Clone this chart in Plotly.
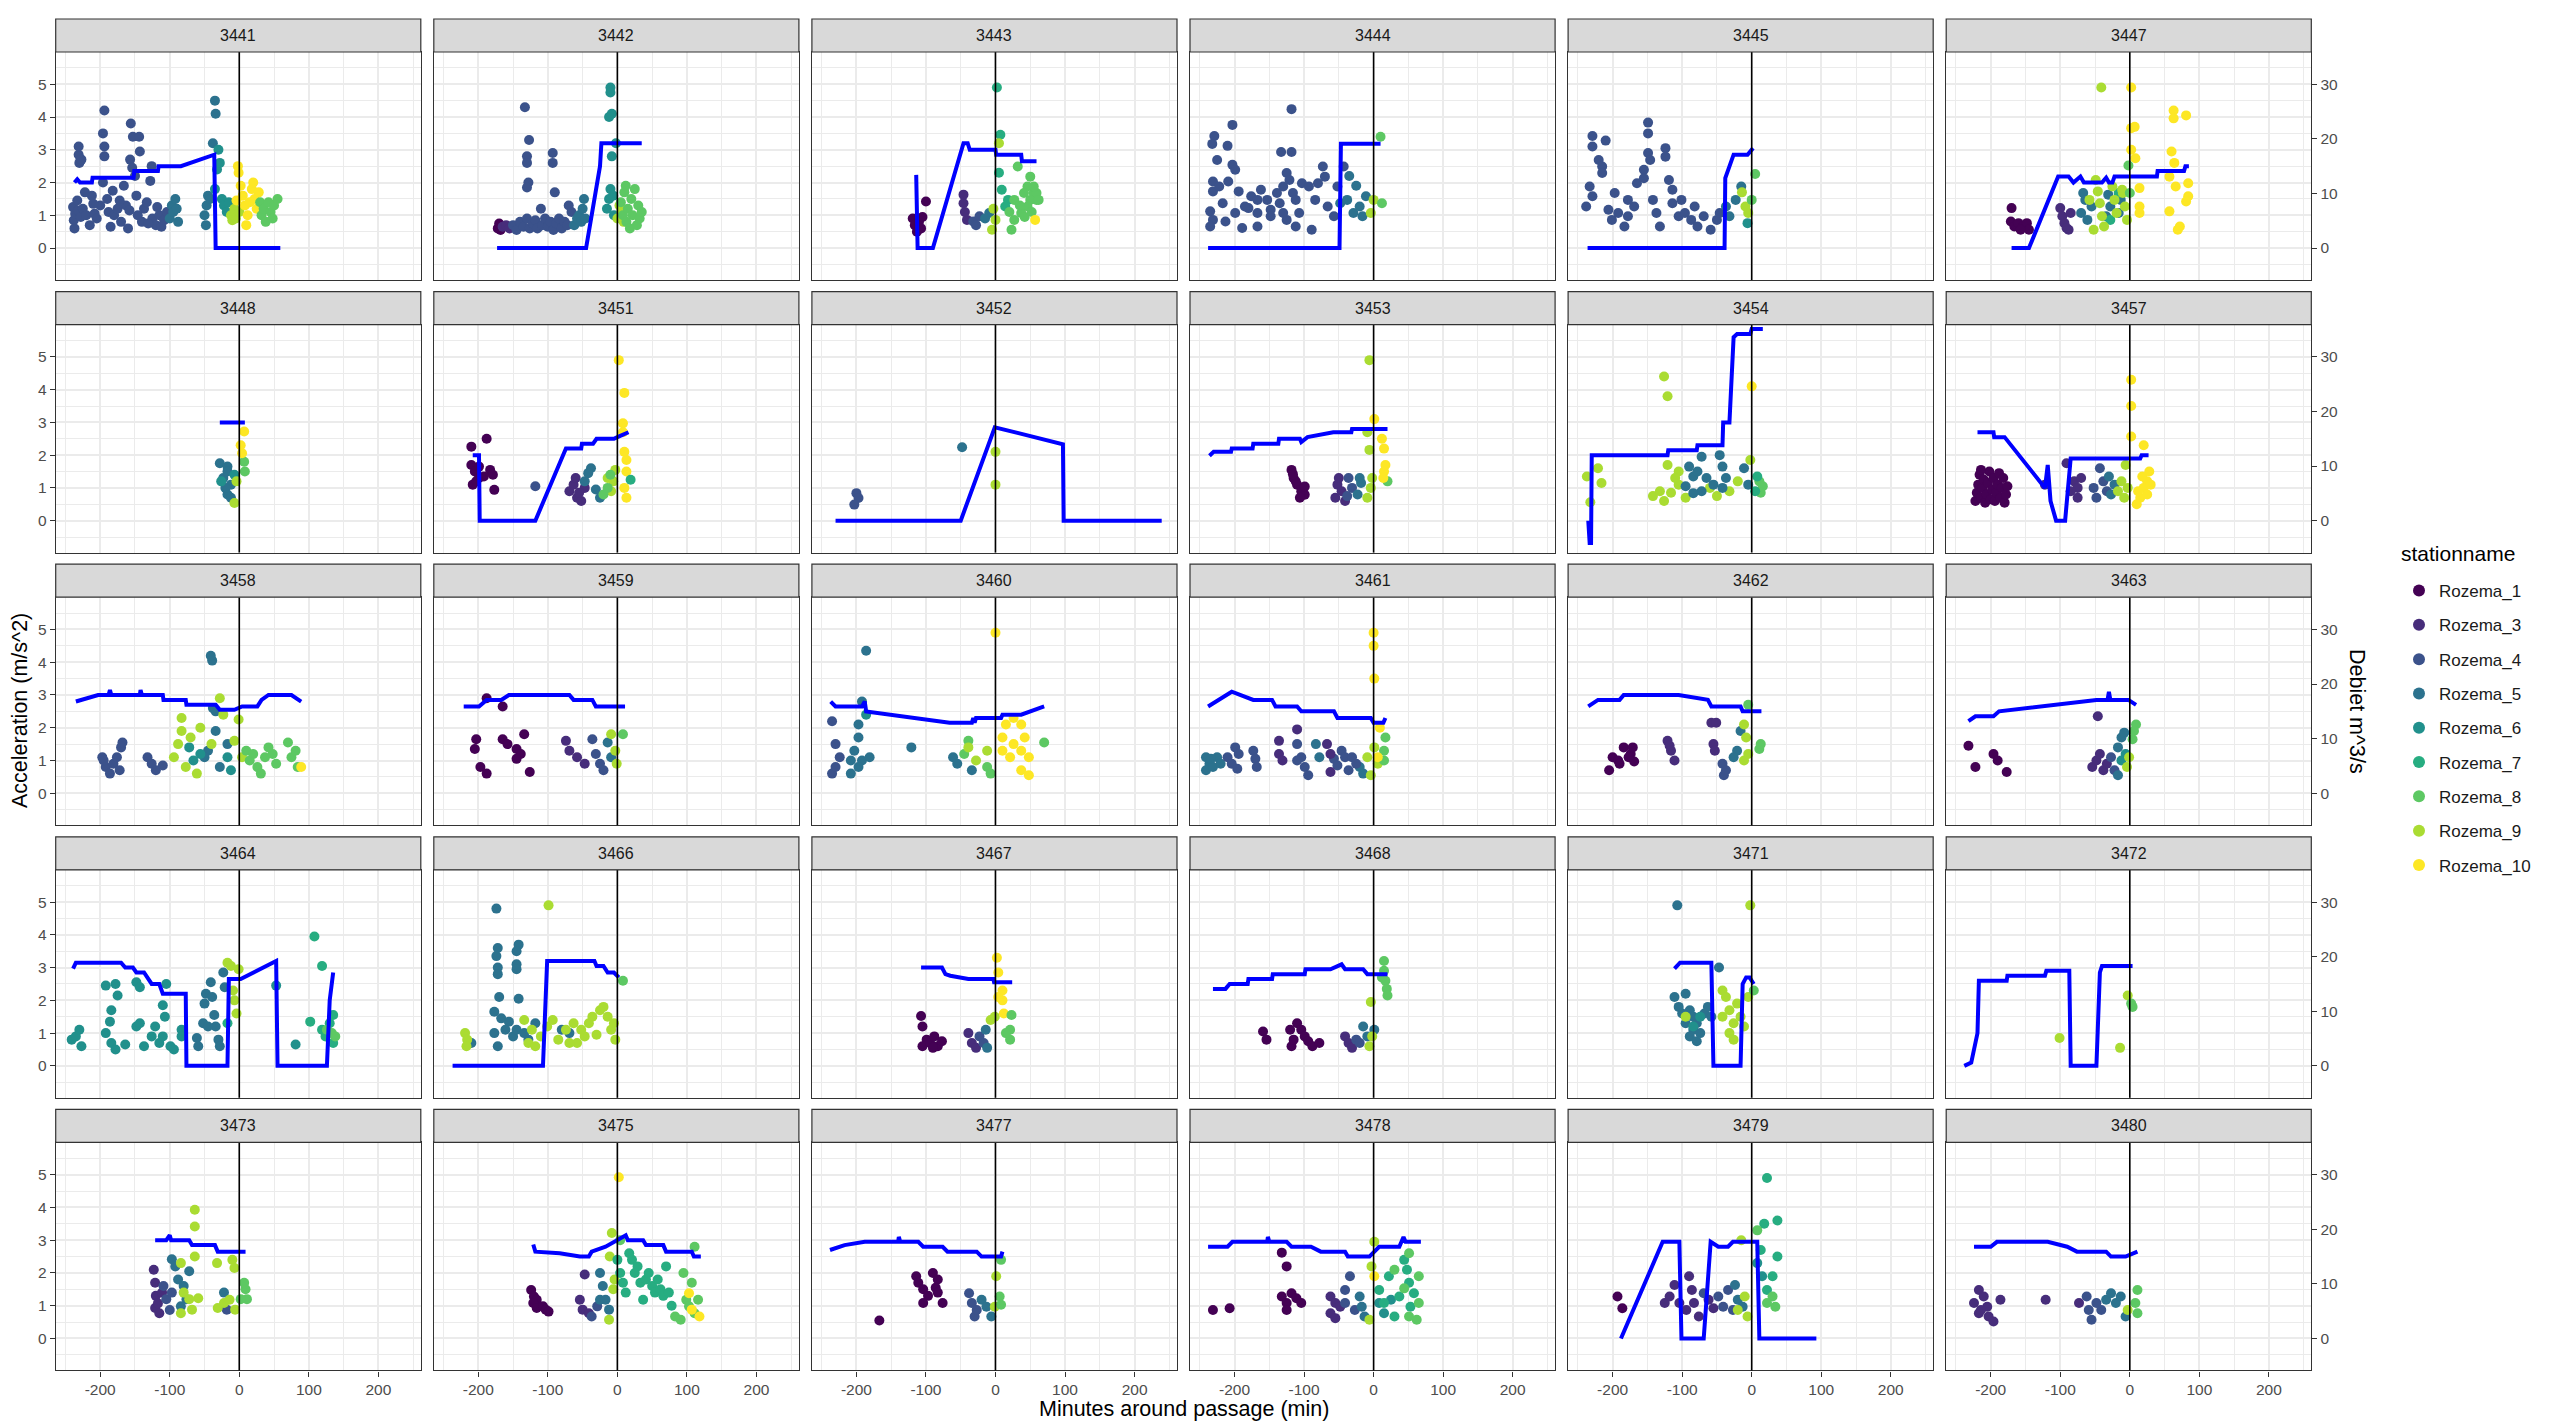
import plotly.graph_objects as go

# ---------------------------------------------------------------- stations
station_ids = [1, 3, 4, 5, 6, 7, 8, 9, 10]
station_names = ["Rozema_1", "Rozema_3", "Rozema_4", "Rozema_5", "Rozema_6",
                 "Rozema_7", "Rozema_8", "Rozema_9", "Rozema_10"]
station_colors = ["#440154", "#472D7B", "#3B528B", "#2C728E", "#21908C",
                  "#27AD81", "#5DC863", "#AADC32", "#FDE725"]

passages = [3441, 3442, 3443, 3444, 3445, 3447,
            3448, 3451, 3452, 3453, 3454, 3457,
            3458, 3459, 3460, 3461, 3462, 3463,
            3464, 3466, 3467, 3468, 3471, 3472,
            3473, 3475, 3477, 3478, 3479, 3480]

x_ticks = [-200, -100, 0, 100, 200]
x_tick_text = ["-200", "-100", "0", "100", "200"]
acc_ticks = [0, 1, 2, 3, 4, 5]
q_ticks = [0, 10, 20, 30]

# ------------------------------------------------- acceleration (m/s^2)
# per passage: (station, [(minutes around passage, acceleration), ...])
acc_3441 = [
    (4, [(-237, 0.6), (-238, 0.85), (-236, 1.05), (-239, 1.25), (-233, 1.45), (-232, 1.15), (-228, 0.95),
         (-225, 1.2), (-230, 2.6), (-231, 2.85), (-231, 3.1), (-227, 2.7), (-220, 1.0), (-215, 0.7),
         (-212, 1.6), (-208, 1.05), (-205, 0.9), (-200, 1.3), (-196, 2.0), (-194, 2.8), (-194, 3.1),
         (-196, 3.5), (-194, 4.2), (-190, 1.5), (-188, 1.1), (-185, 0.65), (-180, 1.0), (-175, 1.2),
         (-170, 0.8), (-166, 1.9), (-163, 1.3), (-160, 0.6), (-157, 2.7), (-156, 3.8), (-153, 3.4),
         (-144, 3.4), (-143, 2.95), (-154, 2.45), (-150, 2.2), (-148, 1.6), (-146, 1.0), (-140, 0.8),
         (-137, 1.2), (-133, 1.4), (-128, 2.05), (-126, 2.5), (-125, 0.9), (-120, 0.7), (-115, 1.0),
         (-112, 0.65), (-108, 0.85), (-104, 1.1), (-222, 1.7), (-210, 1.35), (-182, 1.75), (-172, 1.45),
         (-158, 1.15), (-131, 0.75), (-118, 1.25)]),
    (5, [(-100, 0.9), (-97, 1.3), (-95, 1.1), (-92, 1.5), (-90, 1.2), (-88, 0.8), (-50, 1.0), (-48, 0.7),
         (-47, 1.3), (-45, 1.6), (-38, 3.2), (-34, 4.1), (-35, 4.5), (-42, 1.5)]),
    (6, [(-35, 1.8), (-32, 2.4), (-30, 3.0), (-28, 2.6), (-25, 1.5), (-22, 1.3), (-18, 1.1), (-15, 1.4)]),
    (9, [(-12, 1.0), (-10, 0.85), (-7, 1.2), (-5, 0.9), (0, 1.1)]),
    (10, [(-2, 2.5), (-1, 2.3), (2, 1.9), (5, 1.6), (8, 1.3), (10, 0.7), (12, 1.0), (15, 1.4), (18, 1.8),
          (20, 2.0), (22, 1.5), (25, 1.2), (28, 1.7), (-4, 1.45)]),
    (8, [(30, 1.4), (32, 1.0), (35, 1.2), (38, 0.8), (42, 1.4), (45, 1.1), (50, 1.3), (55, 1.5), (48, 0.9)]),
]
acc_3442 = [
    (1, [(-172, 0.6), (-170, 0.75), (-168, 0.55)]),
    (3, [(-165, 0.65), (-160, 0.7), (-155, 0.6)]),
    (4, [(-150, 0.7), (-145, 0.55), (-140, 0.8), (-135, 0.65), (-130, 0.9), (-126, 0.6), (-122, 0.75),
         (-118, 0.85), (-115, 0.6), (-110, 1.2), (-108, 0.7), (-104, 0.9), (-100, 0.65), (-96, 0.8),
         (-92, 0.55), (-88, 0.75), (-84, 0.9), (-80, 0.6), (-76, 0.8), (-72, 0.7), (-70, 1.3), (-66, 1.1),
         (-133, 4.3), (-127, 3.3), (-130, 2.8), (-130, 2.6), (-128, 2.0), (-130, 1.85), (-93, 2.9),
         (-93, 2.6), (-90, 1.7)]),
    (5, [(-62, 0.7), (-58, 0.9), (-55, 1.0), (-52, 0.8), (-50, 1.2), (-48, 1.5), (-46, 0.9)]),
    (6, [(-10, 4.9), (-10, 4.75), (-8, 4.1), (-12, 4.0), (-8, 2.8), (-10, 1.8), (-12, 1.5), (-15, 1.2),
         (-5, 1.0), (-6, 1.6), (-2, 3.2)]),
    (9, [(0, 0.9), (3, 1.3), (6, 1.1), (9, 0.8)]),
    (8, [(5, 1.4), (8, 1.0), (10, 1.7), (13, 0.8), (15, 1.2), (18, 0.6), (20, 1.5), (22, 1.0), (25, 1.8),
         (28, 0.7), (30, 1.3), (32, 0.9), (35, 1.1), (12, 1.9)]),
]
acc_3443 = [
    (1, [(-119, 0.9), (-116, 0.7), (-113, 0.5), (-110, 0.8), (-107, 0.6), (-105, 0.95), (-100, 1.42)]),
    (3, [(-46, 1.63), (-46, 1.37), (-41, 0.86), (-44, 1.1)]),
    (4, [(-32, 0.81), (-23, 0.97), (-28, 0.7)]),
    (5, [(-9, 1.07), (-15, 0.9)]),
    (7, [(2, 4.9), (7, 3.46), (9, 1.78), (18, 1.47), (14, 1.27), (5, 2.3)]),
    (9, [(-5, 0.56), (0, 0.86), (5, 3.2), (-3, 1.2)]),
    (8, [(32, 2.49), (50, 2.18), (46, 1.88), (55, 1.68), (59, 1.47), (46, 1.27), (37, 1.07), (27, 0.86),
         (23, 0.56), (27, 1.47), (41, 1.68), (50, 1.47), (59, 1.68), (55, 1.88), (62, 1.47), (35, 1.3),
         (20, 1.1), (42, 0.95), (52, 1.1)]),
    (10, [(57, 0.86)]),
]
acc_3444 = [
    (4, [(-229, 3.42), (-232, 3.18), (-210, 3.12), (-203, 3.76), (-225, 2.69), (-203, 2.54), (-199, 2.39),
         (-231, 2.03), (-209, 2.03), (-231, 1.73), (-222, 1.88), (-194, 1.73), (-235, 1.12), (-231, 0.86),
         (-213, 0.81), (-235, 0.66), (-189, 0.61), (-167, 0.66), (-180, 1.22), (-176, 1.58), (-167, 1.47),
         (-162, 1.78), (-153, 1.47), (-148, 1.17), (-139, 1.68), (-135, 1.37), (-130, 1.88), (-133, 2.93),
         (-118, 2.93), (-118, 4.24), (-125, 2.29), (-121, 2.08), (-116, 1.68), (-125, 0.86), (-112, 0.66),
         (-107, 1.07), (-103, 1.98), (-93, 1.88), (-84, 1.47), (-89, 0.56), (-80, 1.98), (-73, 2.49),
         (-70, 2.18), (-66, 1.27), (-57, 0.97), (-52, 1.88), (-43, 2.49), (-148, 0.97), (-185, 1.27),
         (-130, 1.07), (-167, 1.07), (-112, 1.47), (-217, 1.37), (-199, 1.07)]),
    (5, [(-48, 1.37), (-38, 1.47), (-29, 1.07), (-20, 1.27), (-11, 1.58), (-16, 0.97), (-35, 2.2), (-25, 1.9)]),
    (9, [(-4, 1.07), (0, 1.47)]),
    (8, [(10, 3.4), (12, 1.37)]),
]
acc_3445 = [
    (4, [(-229, 3.42), (-210, 3.28), (-229, 3.1), (-220, 2.69), (-215, 2.49), (-233, 1.88), (-229, 1.58),
         (-238, 1.27), (-215, 2.29), (-206, 1.17), (-201, 0.86), (-192, 1.07), (-183, 0.66), (-178, 0.97),
         (-169, 1.27), (-165, 1.98), (-155, 2.39), (-149, 3.83), (-149, 3.5), (-149, 2.9), (-146, 2.69),
         (-155, 2.13), (-142, 1.47), (-137, 1.07), (-132, 0.66), (-124, 3.05), (-124, 2.79), (-119, 2.08),
         (-114, 1.78), (-114, 1.37), (-105, 0.97), (-101, 1.47), (-96, 1.07), (-87, 0.86), (-82, 1.27),
         (-78, 0.66), (-69, 0.97), (-59, 0.56), (-50, 0.86), (-46, 1.07), (-197, 1.68), (-178, 1.47)]),
    (5, [(-37, 1.27), (-32, 0.97), (-23, 1.47), (-15, 1.88)]),
    (6, [(-6, 0.76)]),
    (9, [(-14, 1.7), (-9, 1.27), (-5, 1.07)]),
    (8, [(5, 2.26), (0, 1.47)]),
]
acc_3447 = [
    (1, [(-170, 1.22), (-171, 0.81), (-166, 0.66), (-160, 0.76), (-154, 0.66), (-148, 0.76), (-145, 0.56),
         (-157, 0.56)]),
    (3, [(-100, 1.22), (-97, 0.97), (-94, 0.76), (-88, 0.56), (-85, 1.07), (-91, 0.61)]),
    (5, [(-67, 1.68), (-64, 1.47), (-70, 1.07), (-61, 0.86), (-31, 1.63), (-28, 1.27), (-34, 0.97),
         (-13, 1.47), (-16, 1.07), (-55, 1.27)]),
    (7, [(-16, 1.68), (-28, 0.86)]),
    (9, [(-49, 2.08), (-46, 1.73), (-43, 1.37), (-40, 0.97), (-37, 0.66), (-52, 0.56), (-25, 1.88),
         (-22, 1.47), (-19, 1.07), (-10, 1.68), (-7, 1.27), (-4, 0.86), (-58, 1.47), (-41, 4.9), (-11, 1.78)]),
    (8, [(-2, 2.52), (0, 1.68)]),
    (10, [(2, 4.9), (2, 3.66), (7, 3.7), (2, 3.0), (8, 2.74), (14, 1.83), (14, 1.27), (14, 1.07), (63, 4.2),
          (63, 3.96), (81, 4.05), (60, 2.95), (64, 2.6), (57, 2.18), (66, 1.88), (84, 1.98), (84, 1.58),
          (81, 1.42), (57, 1.12), (72, 0.66), (69, 0.56)]),
]
acc_3448 = [
    (5, [(-28, 1.75), (-17, 1.65), (-23, 1.3), (-12, 1.1), (-17, 0.8), (-12, 0.7), (-17, 1.5), (-20, 1.0)]),
    (6, [(-26, 1.2), (-7, 1.4)]),
    (8, [(7, 1.8), (8, 1.5)]),
    (9, [(-7, 0.54), (-4, 1.2)]),
    (10, [(7, 2.72), (4, 2.06), (2, 2.3)]),
]
acc_3451 = [
    (1, [(-210, 2.26), (-188, 2.5), (-210, 1.7), (-205, 1.5), (-199, 1.3), (-183, 1.55), (-179, 1.4),
         (-177, 0.94), (-208, 1.1), (-199, 1.65), (-192, 1.35), (-203, 1.2)]),
    (4, [(-118, 1.05)]),
    (3, [(-69, 0.9), (-58, 0.7), (-63, 1.1), (-47, 1.0), (-52, 0.6), (-60, 1.3), (-55, 0.85)]),
    (5, [(-38, 1.6), (-47, 1.2), (-31, 0.95), (-25, 0.7), (-42, 1.45)]),
    (9, [(-14, 1.3), (-9, 0.9), (-3, 1.55), (-6, 1.2)]),
    (8, [(-20, 0.8), (-14, 1.0), (-10, 1.4)]),
    (10, [(2, 4.9), (10, 3.9), (8, 2.97), (8, 2.7), (10, 2.1), (13, 1.85), (13, 1.5), (10, 1.0), (13, 0.7)]),
    (7, [(19, 1.25)]),
]
acc_3452 = [
    (4, [(-200, 0.84), (-197, 0.69), (-203, 0.49)]),
    (5, [(-48, 2.24)]),
    (9, [(0, 2.1), (0, 1.1)]),
]
acc_3453 = [
    (1, [(-118, 1.55), (-115, 1.3), (-110, 1.1), (-104, 0.9), (-99, 0.79), (-99, 1.04), (-112, 1.2),
         (-116, 1.42), (-106, 0.7)]),
    (3, [(-52, 1.1), (-55, 0.7), (-46, 0.9), (-41, 0.6), (-50, 1.3)]),
    (4, [(-36, 1.3), (-31, 1.0), (-38, 0.75)]),
    (5, [(-23, 0.8), (-18, 1.15), (-20, 1.3)]),
    (9, [(-6, 4.9), (-9, 0.7), (-2, 1.3), (-4, 1.0), (-9, 2.7), (-6, 2.16)]),
    (8, [(20, 1.2)]),
    (10, [(1, 3.1), (12, 2.5), (15, 2.2), (17, 1.7), (15, 1.5), (14, 1.3)]),
]
acc_3454 = [
    (9, [(-237, 1.35), (-221, 1.6), (-216, 1.15), (-232, 0.56), (-126, 4.4), (-121, 3.8), (-142, 0.75),
         (-126, 0.6), (-116, 0.85), (-105, 1.1), (-95, 0.7), (-121, 1.7), (-105, 1.5), (-32, 0.9),
         (-2, 1.85), (-132, 0.9), (-110, 1.3), (-60, 1.0), (-50, 0.75), (-20, 1.2)]),
    (5, [(-72, 1.95), (-90, 1.65), (-84, 1.35), (-95, 1.05), (-65, 1.3), (-72, 0.9), (-46, 2.0), (-42, 1.65),
         (-37, 1.3), (-42, 1.0), (-11, 1.6), (-5, 1.1), (-84, 0.84), (-78, 1.5), (-55, 1.1)]),
    (8, [(11, 1.2), (16, 1.05), (13, 0.85)]),
    (10, [(0, 4.1)]),
    (7, [(5, 0.9), (8, 1.35)]),
]
acc_3457 = [
    (1, [(-222, 0.6), (-220, 0.85), (-218, 1.1), (-216, 1.4), (-214, 0.7), (-212, 1.0), (-210, 1.25),
         (-208, 0.55), (-206, 0.8), (-204, 1.15), (-202, 1.5), (-200, 0.65), (-198, 0.95), (-196, 1.3),
         (-194, 0.6), (-192, 0.85), (-190, 1.1), (-188, 1.45), (-186, 0.7), (-184, 1.0), (-182, 1.3),
         (-180, 0.55), (-178, 0.8), (-176, 1.05), (-214, 1.55)]),
    (3, [(-91, 1.75), (-80, 1.2), (-75, 1.0), (-122, 1.1), (-75, 0.7), (-85, 0.9), (-70, 1.3)]),
    (4, [(-43, 1.6), (-38, 1.2), (-33, 0.9), (-48, 0.7), (-52, 1.0)]),
    (5, [(-22, 1.1), (-27, 0.8), (-30, 1.35)]),
    (9, [(-6, 1.7), (-12, 1.2), (-17, 0.9), (-3, 1.0), (-8, 0.7)]),
    (10, [(2, 4.3), (2, 3.5), (2, 2.57), (20, 2.3), (25, 1.2), (20, 1.0), (15, 0.7), (30, 1.1), (10, 0.5),
          (25, 0.8), (18, 1.35), (28, 1.5), (12, 0.9)]),
]
acc_3458 = [
    (4, [(-197, 1.1), (-192, 0.8), (-186, 0.6), (-181, 0.9), (-176, 1.1), (-170, 1.4), (-168, 1.55),
         (-172, 0.7), (-132, 1.1), (-126, 0.9), (-120, 0.7), (-110, 0.85), (-195, 1.0)]),
    (5, [(-45, 1.3), (-39, 4.05), (-41, 4.2), (-34, 2.5), (-50, 1.1), (-28, 0.8), (-17, 1.5), (-34, 1.9),
         (-38, 2.6)]),
    (6, [(-72, 1.4), (-66, 1.0), (-56, 1.2), (-17, 1.1), (-12, 0.7)]),
    (9, [(-83, 2.3), (-83, 1.9), (-88, 1.5), (-94, 1.1), (-77, 0.8), (-61, 0.6), (-56, 2.0), (-28, 2.9),
         (-23, 2.4), (-1, 2.25), (-7, 1.6), (4, 1.1), (-70, 1.7), (-40, 1.5)]),
    (8, [(10, 1.3), (15, 1.0), (26, 0.8), (37, 1.1), (42, 1.4), (31, 0.6), (53, 0.9), (70, 1.55), (75, 1.1),
         (81, 1.3), (84, 0.8), (20, 1.2), (48, 1.2)]),
    (10, [(89, 0.8)]),
]
acc_3459 = [
    (1, [(-203, 1.65), (-205, 1.35), (-197, 0.8), (-188, 0.6), (-188, 2.9), (-165, 2.65), (-165, 1.65),
         (-158, 1.5), (-145, 1.35), (-139, 1.2), (-145, 1.05), (-134, 1.8), (-126, 0.65)]),
    (3, [(-74, 1.6), (-69, 1.3), (-58, 1.1), (-47, 0.9)]),
    (4, [(-36, 1.65), (-31, 1.2), (-25, 0.9), (-20, 0.7)]),
    (5, [(-14, 1.55), (-9, 1.1)]),
    (9, [(-9, 1.8), (-3, 1.3), (-1, 0.9)]),
    (8, [(8, 1.8)]),
]
acc_3460 = [
    (4, [(-235, 2.2), (-230, 1.5), (-224, 1.1), (-235, 0.6), (-230, 0.8)]),
    (5, [(-186, 4.35), (-192, 2.8), (-197, 2.1), (-197, 1.7), (-203, 1.3), (-208, 1.0), (-192, 1.0),
         (-181, 1.1), (-208, 0.6), (-197, 0.8), (-121, 1.4), (-61, 1.1), (-55, 0.9), (-34, 0.7)]),
    (6, [(-186, 2.4)]),
    (8, [(-39, 1.6), (-45, 1.2), (-12, 0.8), (-7, 0.6), (70, 1.55)]),
    (9, [(-12, 1.3), (-39, 1.4), (-28, 1.0)]),
    (10, [(0, 4.9), (10, 1.7), (15, 2.1), (26, 2.3), (37, 2.1), (42, 1.7), (37, 1.3), (48, 1.1), (37, 0.7),
          (48, 0.55), (26, 1.5), (21, 1.1), (10, 1.3)]),
]
acc_3461 = [
    (5, [(-241, 1.1), (-236, 0.9), (-241, 0.7), (-231, 0.8), (-225, 1.1), (-220, 0.9), (-234, 1.05),
         (-83, 1.5), (-78, 1.1), (-20, 0.8), (-15, 0.6)]),
    (4, [(-210, 1.1), (-204, 0.9), (-199, 1.4), (-194, 1.2), (-196, 0.75), (-173, 1.3), (-170, 1.05),
         (-168, 0.8), (-110, 1.5), (-104, 1.1), (-99, 0.8), (-94, 0.55), (-110, 1.0), (-57, 1.05),
         (-52, 0.85), (-46, 1.3), (-41, 1.1), (-36, 0.7), (-31, 1.1), (-25, 0.9)]),
    (3, [(-136, 1.6), (-136, 1.2), (-110, 1.95), (-131, 1.0), (-67, 1.5), (-62, 1.2), (-62, 0.65)]),
    (9, [(-9, 1.1), (-4, 0.55), (6, 0.9), (1, 1.4)]),
    (8, [(17, 1.7), (15, 1.3), (15, 1.0)]),
    (10, [(0, 4.9), (0, 4.5), (1, 3.5), (9, 2.0), (6, 1.1)]),
]
acc_3462 = [
    (1, [(-205, 0.7), (-200, 1.1), (-192, 1.0), (-184, 1.4), (-190, 0.9), (-174, 1.2), (-171, 1.4),
         (-169, 0.97), (-177, 1.1)]),
    (3, [(-121, 1.6), (-116, 1.3), (-111, 1.0), (-118, 1.45), (-58, 2.15), (-51, 2.15), (-55, 1.5),
         (-53, 1.3)]),
    (4, [(-42, 0.9), (-40, 0.55), (-37, 0.7)]),
    (5, [(-21, 1.3), (-16, 1.9), (-26, 1.1)]),
    (9, [(-11, 2.1), (-8, 1.7), (-11, 1.0), (-5, 1.2)]),
    (8, [(-5, 2.7), (11, 1.35), (13, 1.5)]),
]
acc_3463 = [
    (1, [(-232, 1.45), (-222, 0.8), (-196, 1.2), (-190, 1.0), (-177, 0.65)]),
    (3, [(-46, 2.35), (-54, 0.8), (-48, 1.0), (-43, 1.2), (-38, 0.7), (-33, 0.9)]),
    (4, [(-27, 1.1), (-22, 0.7)]),
    (5, [(-17, 1.4), (-12, 1.7), (-8, 1.85), (-17, 0.55)]),
    (6, [(-6, 1.2), (-12, 1.0)]),
    (8, [(9, 2.1), (4, 1.65), (6, 1.9)]),
    (9, [(-4, 0.8), (-1, 1.1)]),
]
acc_3464 = [
    (6, [(-241, 0.8), (-235, 0.9), (-230, 1.1), (-227, 0.6), (-192, 2.45), (-178, 2.5), (-175, 2.15),
         (-184, 1.7), (-186, 1.35), (-192, 1.0), (-184, 0.7), (-178, 0.5), (-164, 0.65), (-148, 2.55),
         (-143, 2.4), (-148, 1.2), (-143, 1.3), (-137, 0.6), (-126, 0.9), (-121, 1.2), (-115, 0.7),
         (-110, 0.9), (-105, 2.5), (-110, 1.85), (-107, 1.5), (-99, 0.6), (-94, 0.5), (-83, 1.1),
         (-83, 0.9), (53, 2.45), (81, 0.65)]),
    (5, [(-61, 0.85), (-59, 0.6), (-52, 1.3), (-50, 1.9), (-48, 2.2), (-41, 2.55), (-39, 2.1), (-36, 1.55),
         (-34, 1.2), (-30, 0.8), (-28, 0.6), (-23, 2.85), (-21, 2.4), (-45, 1.2)]),
    (9, [(-17, 3.15), (-12, 3.05), (-7, 2.0), (-4, 1.6), (-9, 2.3), (-1, 2.95)]),
    (7, [(-17, 1.3), (108, 3.95), (119, 3.05), (102, 1.35), (119, 1.1), (124, 0.9), (130, 1.3), (135, 0.7),
         (135, 1.55)]),
    (8, [(126, 1.1), (133, 1.0), (138, 0.9)]),
]
acc_3466 = [
    (5, [(-174, 4.8), (-172, 3.6), (-174, 3.35), (-172, 3.0), (-172, 2.8), (-142, 3.7), (-145, 3.5),
         (-145, 3.1), (-145, 2.95), (-170, 2.1), (-142, 2.05), (-177, 1.65), (-167, 1.45), (-156, 1.35),
         (-161, 1.1), (-177, 1.0), (-172, 0.6), (-150, 0.9), (-145, 1.1), (-134, 1.0), (-128, 0.8),
         (-210, 0.7), (-118, 1.3), (-80, 1.1), (-69, 1.0)]),
    (9, [(-219, 1.0), (-216, 0.8), (-217, 0.6), (-99, 4.9), (-134, 1.4), (-128, 0.7), (-123, 1.1),
         (-118, 0.6), (-110, 0.9), (-101, 1.2), (-93, 1.4), (-85, 0.8), (-74, 1.1), (-63, 1.3), (-52, 1.1),
         (-47, 0.9), (-41, 1.3), (-36, 1.5), (-25, 1.7), (-20, 1.8), (-14, 1.5), (-9, 1.1), (-3, 0.8),
         (-5, 1.3), (-30, 0.95), (-58, 0.7), (-69, 0.7)]),
    (8, [(8, 2.6)]),
]
acc_3467 = [
    (1, [(-107, 1.52), (-105, 1.2), (-99, 0.8), (-105, 0.6), (-94, 0.7), (-88, 0.9), (-83, 0.6),
         (-77, 0.75), (-90, 0.55)]),
    (3, [(-39, 1.0), (-34, 0.7), (-28, 0.55)]),
    (4, [(-23, 0.9), (-17, 0.7)]),
    (5, [(-14, 1.1), (-12, 0.55)]),
    (9, [(-7, 1.4), (-1, 1.5)]),
    (10, [(2, 3.3), (4, 2.85), (10, 2.3), (10, 2.0), (12, 1.6), (4, 2.1)]),
    (8, [(23, 1.55), (21, 1.1), (21, 0.8), (15, 1.0)]),
]
acc_3468 = [
    (1, [(-159, 1.05), (-154, 0.8), (-120, 1.1), (-118, 0.6), (-110, 1.3), (-104, 1.1), (-99, 0.9),
         (-94, 0.75), (-88, 0.6), (-78, 0.7), (-115, 0.8)]),
    (3, [(-41, 0.9), (-36, 0.7), (-31, 0.55)]),
    (4, [(-25, 0.8), (-20, 0.7)]),
    (5, [(-15, 1.2), (-9, 0.9), (1, 1.1)]),
    (9, [(-4, 1.95), (-6, 0.6), (-2, 0.9)]),
    (8, [(15, 3.2), (15, 2.9), (17, 2.6), (19, 2.35), (20, 2.15), (12, 2.7)]),
]
acc_3471 = [
    (5, [(-107, 4.9), (-47, 3.0), (-111, 2.1), (-95, 2.2), (-105, 1.8), (-100, 1.6), (-89, 1.7), (-84, 1.5),
         (-79, 1.3), (-84, 1.1), (-74, 1.0), (-89, 0.9), (-79, 0.75), (-68, 1.6), (-63, 1.8), (-58, 1.5),
         (-95, 1.3)]),
    (6, [(-84, 1.2), (-74, 1.5)]),
    (9, [(-95, 1.5), (-42, 2.3), (-37, 2.1), (-32, 1.7), (-26, 1.3), (-32, 1.0), (-26, 0.8), (-21, 1.9),
         (-16, 1.5), (-11, 1.2), (-5, 2.1), (-2, 4.9), (-42, 1.5)]),
    (8, [(3, 2.3)]),
]
acc_3472 = [
    (9, [(-101, 0.85), (-14, 0.55), (-3, 2.15)]),
    (8, [(4, 1.8), (2, 1.9)]),
]
acc_3473 = [
    (3, [(-123, 2.1), (-121, 1.7), (-120, 1.3), (-121, 0.93), (-117, 1.07), (-111, 1.4), (-115, 0.77)]),
    (4, [(-109, 1.6), (-105, 1.2), (-100, 0.87), (-97, 1.4), (-18, 0.88)]),
    (5, [(-97, 2.42), (-92, 2.2), (-88, 1.8), (-80, 1.6), (-72, 2.05), (-76, 1.2), (-84, 0.98), (-22, 1.4)]),
    (9, [(-64, 3.93), (-64, 3.42), (-64, 2.5), (-84, 2.3), (-80, 1.4), (-72, 1.2), (-59, 1.23), (-68, 0.88),
         (-84, 0.77), (-32, 2.3), (-10, 2.4), (-7, 2.15), (-31, 0.93), (-22, 1.08), (-14, 1.18), (-6, 0.88)]),
    (8, [(7, 1.7), (9, 1.5), (11, 1.2), (2, 1.2)]),
]
acc_3475 = [
    (1, [(-124, 1.48), (-120, 1.28), (-116, 1.18), (-121, 1.08), (-116, 0.93), (-107, 0.98), (-103, 0.88),
         (-99, 0.82)]),
    (3, [(-54, 1.18), (-50, 0.88), (-47, 1.95), (-41, 0.77)]),
    (4, [(-37, 0.67), (-29, 0.98)]),
    (5, [(-25, 1.18), (-25, 2.0), (-21, 1.6), (-17, 1.18), (-12, 0.88)]),
    (9, [(-12, 0.57), (-11, 2.5), (-8, 3.22), (-4, 1.8), (-6, 1.5)]),
    (7, [(0, 2.4), (4, 2.0), (8, 1.7), (12, 1.4), (17, 2.6), (21, 2.4), (25, 2.0), (29, 2.2), (33, 1.7),
         (37, 1.18), (41, 1.8), (45, 2.0), (50, 1.6), (54, 1.4), (58, 1.8), (62, 1.5), (66, 1.3), (70, 2.2),
         (74, 1.4), (78, 1.0)]),
    (8, [(83, 0.67), (91, 0.57), (95, 2.0), (99, 1.18), (107, 1.7), (111, 2.8), (116, 1.18), (111, 0.77),
         (103, 0.98), (4, 3.0)]),
    (10, [(2, 4.92), (103, 1.38), (107, 0.88), (118, 0.67)]),
]
acc_3477 = [
    (1, [(-167, 0.55), (-114, 1.9), (-111, 1.7), (-104, 1.5), (-97, 1.3), (-104, 1.08), (-90, 2.0), (-83, 1.8),
         (-86, 1.55), (-83, 1.4), (-76, 1.08)]),
    (4, [(-38, 1.38), (-34, 1.08), (-30, 0.67), (-27, 0.87)]),
    (5, [(-20, 1.18), (-13, 0.97), (-6, 0.67)]),
    (9, [(-1, 0.97), (1, 1.9)]),
    (8, [(8, 2.4), (6, 1.28), (8, 1.03)]),
]
acc_3478 = [
    (1, [(-231, 0.87), (-207, 0.92), (-132, 2.62), (-125, 2.2), (-132, 1.28), (-125, 1.08), (-118, 1.38),
         (-111, 1.23), (-104, 1.08), (-125, 0.87)]),
    (3, [(-62, 1.28), (-55, 1.08), (-62, 0.77), (-55, 0.62), (-48, 0.97)]),
    (4, [(-41, 1.48), (-34, 1.9), (-41, 1.08), (-27, 0.87)]),
    (5, [(-20, 1.28), (-17, 0.97), (-13, 0.67)]),
    (6, [(8, 1.08), (15, 0.77), (25, 1.18)]),
    (7, [(8, 1.48), (15, 1.08), (22, 1.9), (30, 0.67), (37, 1.28), (44, 2.4), (48, 2.1), (51, 1.7), (53, 0.97),
         (58, 1.38)]),
    (8, [(51, 2.6), (65, 1.9), (65, 1.08), (62, 0.57), (51, 0.67), (44, 1.53), (30, 2.1)]),
    (9, [(1, 2.95), (-3, 2.2), (-6, 0.57)]),
    (10, [(1, 1.9)]),
]
acc_3479 = [
    (1, [(-193, 1.28), (-186, 0.92)]),
    (3, [(-125, 1.08), (-118, 1.28), (-111, 1.63), (-104, 1.08), (-94, 0.87), (-90, 1.9), (-86, 1.48),
         (-83, 1.08), (-76, 0.67), (-62, 1.18), (-55, 0.92)]),
    (4, [(-48, 1.28), (-41, 0.97), (-34, 1.48), (-27, 0.87), (-69, 1.38)]),
    (5, [(-24, 1.63), (-20, 1.18), (-13, 0.97)]),
    (9, [(-15, 3.0), (-10, 1.28), (-6, 0.67), (-20, 0.87)]),
    (6, [(8, 2.3), (15, 1.9)]),
    (7, [(22, 4.9), (18, 3.5), (37, 3.6), (13, 2.7), (37, 2.5), (30, 1.9), (22, 1.48)]),
    (8, [(30, 1.28), (34, 0.97), (22, 1.08), (8, 3.3)]),
]
acc_3480 = [
    (3, [(-224, 1.08), (-217, 1.48), (-217, 0.77), (-210, 1.28), (-205, 0.97), (-203, 0.67), (-196, 0.52),
         (-186, 1.18), (-214, 0.87), (-121, 1.18), (-73, 1.08)]),
    (4, [(-62, 1.28), (-59, 0.87), (-55, 0.57), (-48, 1.08), (-41, 0.87)]),
    (5, [(-34, 1.18), (-27, 1.38), (-20, 1.08), (-13, 1.28), (-6, 0.67)]),
    (9, [(-3, 0.87)]),
    (8, [(11, 1.48), (11, 0.77), (8, 1.08)]),
]

# ------------------------------------------------- discharge (m^3/s)
# per passage: [(minutes around passage, discharge), ...]
q_3441 = [(-237, 12), (-233, 12.6), (-229, 12), (-212, 12), (-211, 12.9), (-152, 12.9), (-151, 14.1),
          (-117, 14.1), (-116, 15), (-84, 15), (-36, 17.1), (-34, 0), (59, 0)]
q_3442 = [(-173, 0), (-45, 0), (-25, 15), (-23, 19.2), (35, 19.2)]
q_3443 = [(-114, 13.4), (-112, 0), (-90, 0), (-46, 19.2), (-40, 19.2), (-37, 18), (0, 18), (1, 17.1),
          (37, 17.1), (38, 15.9), (59, 15.9)]
q_3444 = [(-238, 0), (-49, 0), (-47, 19.1), (10, 19.1)]
q_3445 = [(-236, 0), (-39, 0), (-38, 12.8), (-26, 17.1), (-6, 17.1), (2, 18.3)]
q_3447 = [(-170, 0), (-145, 0), (-103, 13.1), (-88, 13.1), (-81, 12), (-71, 13.1), (-66, 12), (-40, 12),
          (-34, 12.9), (-30, 12), (-25, 12), (-22, 13.1), (39, 13.1), (40, 14.1), (78, 14.1), (80, 15), (85, 15)]
q_3448 = [(-28, 18), (8, 18)]
q_3451 = [(-208, 12), (-199, 12), (-198, 0), (-118, 0), (-74, 13.2), (-52, 13.2), (-51, 14.1), (-35, 14.1),
          (-30, 15), (-5, 15), (0, 15.3), (16, 16.2)]
q_3452 = [(-230, 0), (-50, 0), (-1, 17.1), (97, 14), (98, 0), (239, 0)]
q_3453 = [(-236, 11.9), (-230, 12.6), (-205, 12.6), (-204, 13.2), (-174, 13.2), (-173, 14.1), (-137, 14.1),
          (-136, 15), (-106, 15), (-104, 14.4), (-95, 15.3), (-58, 16.2), (-32, 16.2), (-31, 16.8), (20, 16.8)]
q_3454 = [(-235, 0), (-233, -4.1), (-231, -4.1), (-230, 12), (-121, 12), (-120, 12.9), (-79, 12.9),
          (-78, 13.8), (-42, 13.8), (-41, 18), (-32, 18), (-26, 33.6), (-21, 34.2), (-2, 34.2), (0, 35.1),
          (16, 35.1)]
q_3457 = [(-219, 16.2), (-196, 16.2), (-195, 15.3), (-180, 15.3), (-122, 6), (-118, 10.2), (-114, 3.6),
          (-106, 0), (-93, 0), (-85, 11.4), (15, 11.4), (17, 12), (27, 12)]
q_3458 = [(-235, 16.8), (-203, 18), (-188, 18), (-186, 18.9), (-184, 18), (-143, 18), (-142, 18.9),
          (-140, 18), (-110, 18), (-109, 17.1), (-77, 17.1), (-76, 16.2), (-34, 16.2), (-28, 15.3), (-7, 15.3),
          (4, 15.9), (26, 15.9), (32, 17.1), (42, 18), (75, 18), (89, 16.8)]
q_3459 = [(-221, 15.9), (-199, 15.9), (-188, 17.1), (-167, 17.1), (-156, 18), (-69, 18), (-63, 17.1),
          (-36, 17.1), (-31, 15.9), (11, 15.9)]
q_3460 = [(-237, 16.8), (-230, 15.9), (-192, 15.9), (-188, 16.8), (-186, 15), (-66, 12.9), (-34, 12.9),
          (-32, 13.8), (-30, 12.9), (-28, 13.8), (8, 13.8), (10, 14.4), (37, 14.4), (70, 15.9)]
q_3461 = [(-238, 15.9), (-204, 18.6), (-173, 17.1), (-146, 17.1), (-141, 15.9), (-110, 15.9), (-104, 15),
          (-57, 15), (-52, 13.8), (-4, 13.8), (0, 12.9), (14, 12.9), (17, 13.8)]
q_3462 = [(-235, 15.9), (-221, 17.1), (-190, 17.1), (-184, 18), (-105, 18), (-63, 17.1), (-58, 15.9),
          (-16, 15.9), (-13, 15), (14, 15)]
q_3463 = [(-232, 13.2), (-222, 14.1), (-196, 14.1), (-188, 15), (-48, 17.1), (-32, 17.1), (-30, 18.6),
          (-28, 17.1), (-2, 17.1), (9, 16.2)]
q_3464 = [(-239, 17.8), (-235, 18.9), (-170, 18.9), (-164, 18), (-153, 18), (-148, 17.1), (-137, 17.1),
          (-132, 16.2), (-126, 15), (-115, 15), (-112, 14.1), (-110, 13.2), (-77, 13.2), (-76, 0), (-17, 0),
          (-15, 15.9), (2, 15.9), (53, 19.2), (55, 0), (126, 0), (130, 12), (135, 17.1)]
q_3466 = [(-237, 0), (-107, 0), (-101, 19.2), (-33, 19.2), (-30, 18.3), (-20, 18.3), (-14, 17.1), (-5, 17.1),
          (2, 16.2)]
q_3467 = [(-107, 18), (-77, 18), (-72, 16.8), (-65, 16.5), (-39, 15.9), (-3, 15.9), (-2, 15.3), (24, 15.3)]
q_3468 = [(-231, 14.1), (-213, 14.1), (-207, 15), (-181, 15), (-180, 15.9), (-146, 15.9), (-145, 16.8),
          (-99, 16.8), (-98, 17.7), (-62, 17.7), (-46, 18.6), (-41, 17.7), (-15, 17.7), (-9, 16.8), (20, 16.8)]
q_3471 = [(-111, 17.8), (-103, 18.9), (-58, 18.9), (-55, 0), (-16, 0), (-13, 15), (-8, 16.2), (-3, 16.2),
          (3, 15)]
q_3472 = [(-238, 0), (-228, 0.6), (-219, 6), (-217, 15.6), (-177, 15.6), (-176, 16.5), (-122, 16.5),
          (-120, 17.4), (-87, 17.4), (-85, 0), (-48, 0), (-43, 17.1), (-40, 18.3), (4, 18.3)]
q_3473 = [(-121, 18), (-105, 18), (-100, 18.9), (-98, 18), (-72, 18), (-68, 17.1), (-35, 17.1), (-31, 15.9),
          (9, 15.9)]
q_3475 = [(-121, 17.2), (-118, 15.9), (-83, 15.6), (-54, 15), (-41, 15), (-37, 15.9), (-17, 16.8), (0, 18),
          (12, 18.9), (15, 18), (37, 18), (41, 17.1), (66, 17.1), (70, 15.9), (107, 15.9), (110, 15), (120, 15)]
q_3477 = [(-238, 16.2), (-217, 17.1), (-188, 17.7), (-140, 17.7), (-139, 18.6), (-137, 17.7), (-111, 17.7),
          (-104, 16.8), (-76, 16.8), (-69, 15.9), (-27, 15.9), (-20, 15), (8, 15), (10, 15.9)]
q_3478 = [(-238, 16.8), (-210, 16.8), (-203, 17.7), (-153, 17.7), (-152, 18.6), (-150, 17.7), (-125, 17.7),
          (-118, 16.8), (-90, 16.8), (-76, 15.9), (-41, 15.9), (-37, 15), (-6, 15), (1, 15.9), (8, 16.8),
          (37, 16.8), (43, 18.6), (46, 17.7), (68, 17.7)]
q_3479 = [(-188, 0), (-128, 17.7), (-104, 17.7), (-101, 0), (-69, 0), (-59, 17.7), (-48, 16.8), (-34, 16.8),
          (-27, 17.7), (8, 17.7), (11, 0), (93, 0)]
q_3480 = [(-224, 16.8), (-200, 16.8), (-191, 17.7), (-118, 17.7), (-90, 16.8), (-76, 15.9), (-34, 15.9),
          (-27, 15), (-6, 15), (11, 15.9)]

acc_series = [acc_3441, acc_3442, acc_3443, acc_3444, acc_3445, acc_3447,
              acc_3448, acc_3451, acc_3452, acc_3453, acc_3454, acc_3457,
              acc_3458, acc_3459, acc_3460, acc_3461, acc_3462, acc_3463,
              acc_3464, acc_3466, acc_3467, acc_3468, acc_3471, acc_3472,
              acc_3473, acc_3475, acc_3477, acc_3478, acc_3479, acc_3480]
q_series = [q_3441, q_3442, q_3443, q_3444, q_3445, q_3447,
            q_3448, q_3451, q_3452, q_3453, q_3454, q_3457,
            q_3458, q_3459, q_3460, q_3461, q_3462, q_3463,
            q_3464, q_3466, q_3467, q_3468, q_3471, q_3472,
            q_3473, q_3475, q_3477, q_3478, q_3479, q_3480]

# ------------------------------------------------------------ styling
W, H = 2560, 1425
FONT = "Liberation Sans, Arial, Helvetica, sans-serif"
X_RANGE = [-264, 261]
ACC_RANGE = [-0.975, 5.985]
Q_SCALE = 6.0  # secondary axis: discharge = 6 x acceleration scale
Q_RANGE = [ACC_RANGE[0] * Q_SCALE, ACC_RANGE[1] * Q_SCALE]

N_COLS, N_ROWS = 6, 5
PANEL_W, PANEL_H = 365.1, 228.0
COL_PITCH, ROW_PITCH = 378.1, 272.6
LEFT0, TOP0, STRIP_H = 55.7, 52.0, 33.0

GRID = "#EBEBEB"
BORDER = "#333333"
TICK_FONT = dict(family=FONT, size=15.5, color="#4D4D4D")
TITLE_FONT = dict(family=FONT, size=21.5, color="black")

color_of = dict(zip(station_ids, station_colors))
name_of = dict(zip(station_ids, station_names))

fig = go.Figure()

# legend entries, one per station
for sid in station_ids:
    fig.add_trace(go.Scatter(
        x=[None], y=[None], mode="markers", name=name_of[sid],
        legendgroup=name_of[sid], showlegend=True,
        marker=dict(color=color_of[sid], size=10), xaxis="x", yaxis="y"))

layout_axes = {}
shapes = []
annotations = []

for i, (pid, groups, q) in enumerate(zip(passages, acc_series, q_series)):
    r, c = divmod(i, N_COLS)
    n = i + 1
    xa = "x" if n == 1 else f"x{n}"
    ya = "y" if n == 1 else f"y{n}"
    ya2 = f"y{n + 30}"

    for sid, samples in groups:
        fig.add_trace(go.Scatter(
            x=[s[0] for s in samples], y=[s[1] for s in samples],
            mode="markers", marker=dict(color=color_of[sid], size=10, line=dict(width=0)),
            legendgroup=name_of[sid], showlegend=False, hoverinfo="skip",
            xaxis=xa, yaxis=ya))

    fig.add_trace(go.Scatter(
        x=[p[0] for p in q], y=[p[1] for p in q], mode="lines",
        line=dict(color="#0000FF", width=4), showlegend=False, hoverinfo="skip",
        xaxis=xa, yaxis=ya2))

    left = LEFT0 + c * COL_PITCH
    right = left + PANEL_W
    top = TOP0 + r * ROW_PITCH
    bottom = top + PANEL_H
    xdom = [left / W, right / W]
    ydom = [1 - bottom / H, 1 - top / H]

    bottom_row = r == N_ROWS - 1
    left_col = c == 0
    right_col = c == N_COLS - 1

    layout_axes["xaxis" if n == 1 else f"xaxis{n}"] = dict(
        domain=xdom, anchor=ya, range=X_RANGE, autorange=False,
        tickmode="array", tickvals=x_ticks, ticktext=x_tick_text,
        showticklabels=bottom_row, ticks="outside" if bottom_row else "",
        ticklen=5, tickwidth=1.2, tickcolor=BORDER, tickfont=TICK_FONT,
        showgrid=True, gridcolor=GRID, gridwidth=1.8, zeroline=False,
        minor=dict(dtick=50, tick0=0, showgrid=True, gridcolor=GRID, gridwidth=1, ticks=""),
        showline=True, mirror=True, linecolor=BORDER, linewidth=1.2)

    layout_axes["yaxis" if n == 1 else f"yaxis{n}"] = dict(
        domain=ydom, anchor=xa, range=ACC_RANGE, autorange=False,
        tickmode="array", tickvals=acc_ticks,
        showticklabels=left_col, ticks="outside" if left_col else "",
        ticklen=5, tickwidth=1.2, tickcolor=BORDER, tickfont=TICK_FONT,
        showgrid=True, gridcolor=GRID, gridwidth=1.8, zeroline=False,
        minor=dict(dtick=0.5, tick0=0, showgrid=True, gridcolor=GRID, gridwidth=1, ticks=""),
        showline=True, mirror=True, linecolor=BORDER, linewidth=1.2)

    layout_axes[f"yaxis{n + 30}"] = dict(
        anchor=xa, overlaying=ya, side="right", range=Q_RANGE, autorange=False,
        tickmode="array", tickvals=q_ticks if right_col else [],
        showticklabels=right_col, ticks="outside" if right_col else "",
        ticklen=5, tickwidth=1.2, tickcolor=BORDER, tickfont=TICK_FONT,
        showgrid=False, zeroline=False, showline=False)

    # passage moment
    shapes.append(dict(type="line", xref=xa, yref=f"{ya} domain", x0=0, x1=0, y0=0, y1=1,
                       line=dict(color="black", width=1.6), layer="above"))
    # facet strip
    strip_top = top - STRIP_H
    shapes.append(dict(type="rect", xref="paper", yref="paper",
                       x0=left / W, x1=right / W, y0=1 - top / H, y1=1 - strip_top / H,
                       fillcolor="#D9D9D9", line=dict(color=BORDER, width=1.2), layer="above"))
    annotations.append(dict(text=str(pid), xref="paper", yref="paper",
                            x=(left + right) / 2 / W, y=1 - (strip_top + STRIP_H / 2) / H,
                            xanchor="center", yanchor="middle", showarrow=False,
                            font=dict(family=FONT, size=16, color="#1A1A1A")))

# axis titles
annotations.append(dict(text="Acceleration (m/s^2)", xref="paper", yref="paper",
                        x=20 / W, y=1 - 711 / H, textangle=-90, showarrow=False,
                        xanchor="center", yanchor="middle", font=TITLE_FONT))
annotations.append(dict(text="Minutes around passage (min)", xref="paper", yref="paper",
                        x=1184 / W, y=1 - 1409 / H, showarrow=False,
                        xanchor="center", yanchor="middle", font=TITLE_FONT))
annotations.append(dict(text="Debiet m^3/s", xref="paper", yref="paper",
                        x=2357 / W, y=1 - 711 / H, textangle=90, showarrow=False,
                        xanchor="center", yanchor="middle", font=TITLE_FONT))
# legend heading
annotations.append(dict(text="stationname", xref="paper", yref="paper",
                        x=2399 / W, y=1 - 553 / H, showarrow=False,
                        xanchor="left", yanchor="middle",
                        font=dict(family=FONT, size=21, color="black")))

fig.update_layout(
    width=W, height=H, autosize=False,
    margin=dict(l=0, r=0, t=0, b=0),
    paper_bgcolor="white", plot_bgcolor="white",
    font=dict(family=FONT, size=16, color="#1A1A1A"),
    shapes=shapes, annotations=annotations,
    showlegend=True,
    legend=dict(
        x=2399 / W, y=1 - 573 / H, xanchor="left", yanchor="top",
        font=dict(family=FONT, size=17, color="#1A1A1A"),
        tracegroupgap=9.2, itemsizing="constant", bgcolor="rgba(0,0,0,0)",
        borderwidth=0),
    **layout_axes,
)

fig.write_html("out.html")
